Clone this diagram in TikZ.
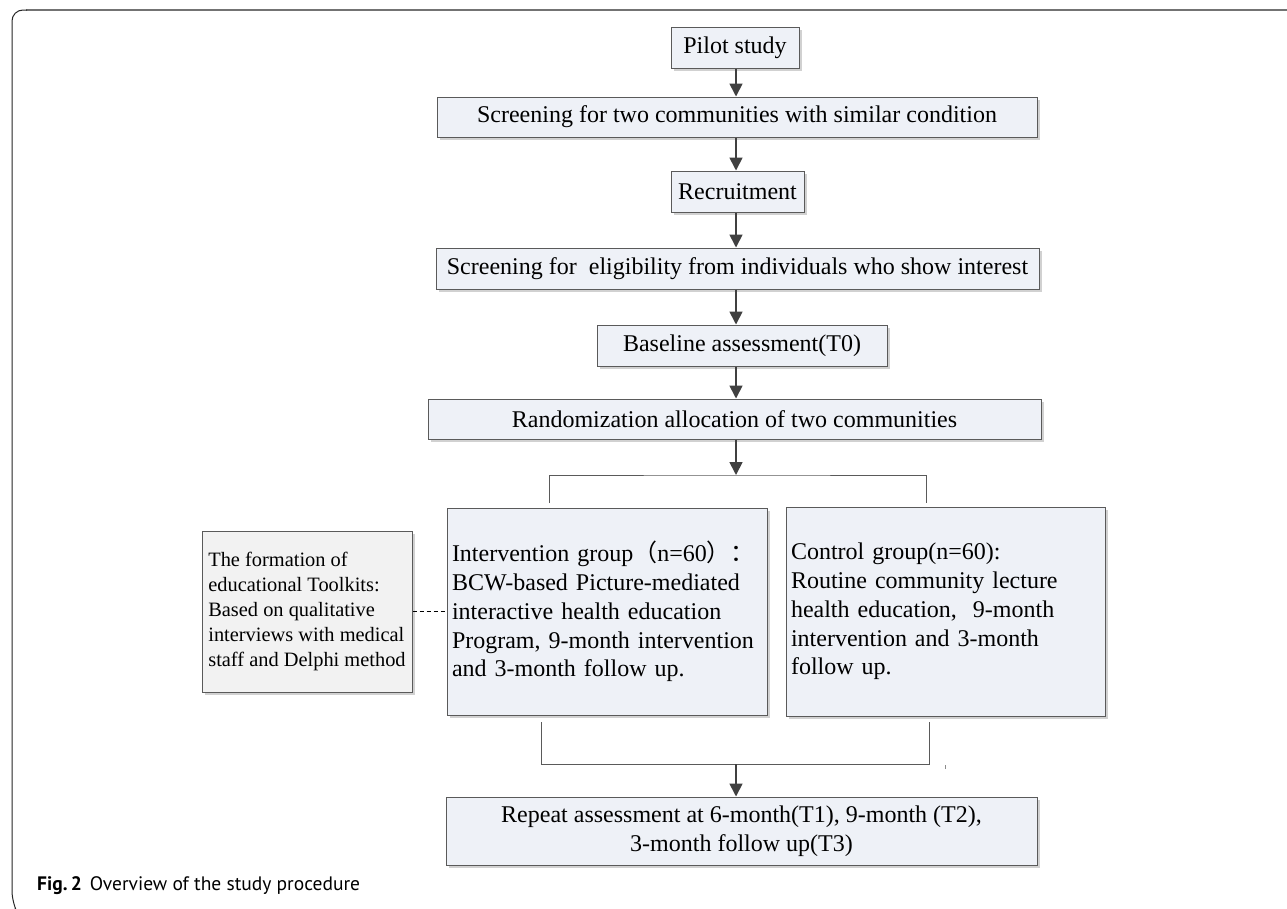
\documentclass[tikz,border=0pt]{standalone}
\usepackage{fontspec}
\setmainfont{Liberation Serif}
\newfontfamily\capfont{PT Sans}
\newfontfamily\cjk{Noto Sans CJK SC}
\usetikzlibrary{arrows.meta,shadows}
\definecolor{boxfill}{HTML}{EEF1F7}
\definecolor{toolfill}{HTML}{F2F2F2}
\definecolor{boxline}{HTML}{5A5A5A}
\definecolor{arrowcol}{HTML}{404040}
\tikzset{
  stepbox/.style={draw=boxline, fill=boxfill, line width=1pt, inner sep=0pt,
    font=\fontsize{24}{28.8}\selectfont,
    drop shadow={shadow xshift=2.5pt, shadow yshift=-2.5pt, fill=black!18, opacity=1}},
  groupbox/.style={stepbox, align=left, inner xsep=5pt},
  toolbox/.style={stepbox, fill=toolfill, font=\fontsize{20.4}{24.8}\selectfont, align=left},
  flowarrow/.style={draw=arrowcol, line width=1.7pt, -{Triangle[width=13pt,length=13pt]}},
  bracketline/.style={draw=boxline, line width=1pt},
  dashline/.style={draw=black, line width=0.9pt, dash pattern=on 4pt off 3pt},
}
\begin{document}
\begin{tikzpicture}[x=1pt,y=-1pt]
\useasboundingbox (0,0) rectangle (1287,908);
\fill[white] (0,0) rectangle (1287,908);
% frame
\draw[black!55, line width=1.6pt] (1287,10) -- (26,10);
\draw[black!85, line width=1pt, rounded corners=11pt] (27,10) -- (12,10) -- (12,902) -- (15,908);

% boxes
\node[stepbox, minimum width=128, minimum height=41] (pilot) at (735,47.5) {Pilot study};
\node[stepbox, minimum width=600, minimum height=40] (scr) at (737,117) {Screening for two communities with similar condition};
\node[stepbox, minimum width=133, minimum height=41] (recruit) at (737.5,191.5) {Recruitment};
\node[stepbox, minimum width=603, minimum height=41] (elig) at (737.5,268.5) {Screening for\ \ eligibility from individuals who show interest};
\node[stepbox, minimum width=290, minimum height=41] (base) at (742,345.5) {Baseline assessment(T0)};
\node[stepbox, minimum width=613, minimum height=40] (rand) at (734.5,419) {Randomization allocation of two communities};
\node[groupbox, text width=310pt, minimum width=320, minimum height=207] (interv) at (607,611.5)
  {Intervention group{\cjk （}n=60{\cjk ）：}\\BCW-based Picture-mediated\\interactive health education\\Program, 9-month intervention\\and 3-month follow up.};
\node[groupbox, text width=309pt, minimum width=319, minimum height=209] (ctrl) at (945.5,611.5)
  {Control group(n=60):\\Routine community lecture\\health education,\ \ 9-month\\intervention and 3-month\\follow up.};
\node[toolbox, minimum width=210, minimum height=161] (tool) at (307,611.5)
  {The formation of\\educational Toolkits:\\Based on qualitative\\interviews with medical\\staff and Delphi method};
\node[stepbox, minimum width=591, minimum height=68, align=center] (rep) at (741.5,831)
  {Repeat assessment at 6-month(T1), 9-month (T2),\\3-month follow up(T3)};

% arrow column
\coordinate (ax) at (736,0);
\draw[flowarrow] (ax |- pilot.south) -- (ax |- scr.north);
\draw[flowarrow] (ax |- scr.south) -- (ax |- recruit.north);
\draw[flowarrow] (ax |- recruit.south) -- (ax |- elig.north);
\draw[flowarrow] (ax |- elig.south) -- (ax |- base.north);
\draw[flowarrow] (ax |- base.south) -- (ax |- rand.north);

% upper bracket
\coordinate (bt) at (736,475);
\coordinate (bl) at (549,503);
\coordinate (br) at (926,503);
\draw[flowarrow] (ax |- rand.south) -- (bt);
\draw[bracketline] (bl) |- (bt) -| (br);

% lower bracket
\coordinate (cl) at (541,722);
\coordinate (cr) at (929,722);
\coordinate (cb) at (736,764);
\draw[bracketline] (cl) |- (cb) -| (cr);
\draw[flowarrow] (cb) -- (cb |- rep.north);

% dashed link
\draw[dashline] (tool.east) -- (tool.east -| interv.west);

% stray tick
\coordinate (tk) at (945,765);
\draw[black!45, line width=0.8pt] (tk) -- ++(0,4);

% caption
\node[anchor=base west, inner sep=0pt, font=\capfont\fontsize{19.5}{23}\selectfont] (cap) at (37,890)
  {\textbf{Fig.\,2}\hspace{8pt}Overview of the study procedure};
\end{tikzpicture}
\end{document}
